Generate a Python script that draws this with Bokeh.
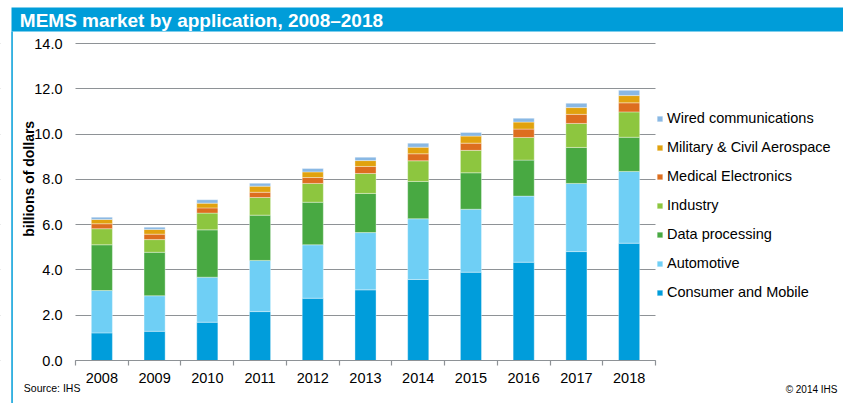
from math import pi
from bokeh.plotting import figure
from bokeh.models import (FixedTicker, NumeralTickFormatter, Legend, LegendItem,
                          Label, BoxAnnotation, ColumnDataSource, Range1d)
from bokeh.embed import file_html
from bokeh.resources import INLINE

years = [2008, 2009, 2010, 2011, 2012, 2013, 2014, 2015, 2016, 2017, 2018]
consumer = [1.22, 1.29, 1.69, 2.16, 2.75, 3.12, 3.58, 3.90, 4.34, 4.81, 5.18]
automotive = [1.87, 1.57, 1.99, 2.26, 2.36, 2.53, 2.68, 2.78, 2.92, 3.01, 3.17]
data_proc = [2.02, 1.92, 2.09, 2.00, 1.88, 1.73, 1.65, 1.61, 1.59, 1.59, 1.51]
industry = [0.71, 0.56, 0.74, 0.78, 0.83, 0.88, 0.91, 0.99, 1.00, 1.06, 1.12]
medical = [0.22, 0.24, 0.23, 0.23, 0.26, 0.31, 0.31, 0.32, 0.37, 0.40, 0.40]
military = [0.19, 0.21, 0.21, 0.27, 0.25, 0.26, 0.29, 0.31, 0.31, 0.30, 0.32]
wired = [0.10, 0.10, 0.15, 0.13, 0.15, 0.15, 0.18, 0.16, 0.17, 0.19, 0.23]

series_names = ["Consumer and Mobile", "Automotive", "Data processing", "Industry",
                "Medical Electronics", "Military & Civil Aerospace", "Wired communications"]
series_keys = ["consumer", "automotive", "data_proc", "industry", "medical", "military", "wired"]
colors = ["#009DDB", "#6FCFF5", "#48A942", "#8DC63F", "#DD6E1F", "#E1A20E", "#89B8E4"]
y_ticks = [0, 2, 4, 6, 8, 10, 12, 14]

title_text = "MEMS market by application, 2008\u20132018"
y_title = "billions of dollars"
source_text = "Source: IHS"
copyright_text = "\u00a9 2014 IHS"

FONT = "Liberation Sans"
BLUE = "#009DD9"
GRID = "#8E9296"

# ---- pixel layout (canvas 843 x 403, frame = whole canvas)
W, H = 843, 403
X0, X1 = 75, 655      # plot area left/right (page px)
Y0, Y1 = 360, 43      # value 0 / value 14 (page px)
x_lo, x_hi = years[0] - 0.5, years[-1] + 0.5
y_lo, y_hi = y_ticks[0], y_ticks[-1]
xs = (X1 - X0) / (x_hi - x_lo)
ys = (Y0 - Y1) / (y_hi - y_lo)
x_range = Range1d(x_lo - X0 / xs, x_hi + (W - X1) / xs)
y_range = Range1d(y_lo - (H - Y0) / ys, y_hi + Y1 / ys)
FIX = 0.32  # em correction of the drawn baseline

source = ColumnDataSource(dict(years=years, consumer=consumer, automotive=automotive,
                               data_proc=data_proc, industry=industry, medical=medical,
                               military=military, wired=wired))

p = figure(width=W, height=H, output_backend="svg", toolbar_location=None,
           x_range=x_range, y_range=y_range, min_border=0)
p.title.visible = False
p.outline_line_color = None
p.background_fill_color = "white"
p.border_fill_color = "white"

renderers = p.vbar_stack(series_keys, x="years", width=0.4, source=source, color=colors,
                         line_color="white", line_width=0.6, line_alpha=0.6)

# y axis drawn at the left edge of the plot area
p.yaxis.fixed_location = x_lo
p.yaxis.ticker = FixedTicker(ticks=y_ticks)
p.yaxis.formatter = NumeralTickFormatter(format="0.0")
p.yaxis.axis_line_color = None
p.yaxis.major_tick_line_color = None
p.yaxis.major_tick_out = 0
p.yaxis.major_tick_in = 0
p.yaxis.minor_tick_line_color = None
p.yaxis.major_label_standoff = 13
p.yaxis.major_label_text_font = FONT
p.yaxis.major_label_text_font_size = "14.5px"
p.yaxis.major_label_text_color = "black"

# x axis drawn at value 0
p.xaxis.fixed_location = y_lo
p.xaxis.bounds = (x_lo, x_hi)
p.xaxis.ticker = FixedTicker(ticks=years, minor_ticks=[y - 0.5 for y in years] + [years[-1] + 0.5])
p.xaxis.major_label_overrides = {y: str(y) for y in years}
p.xaxis.major_tick_line_color = None
p.xaxis.major_tick_out = 0
p.xaxis.major_tick_in = 0
p.xaxis.minor_tick_in = 0
p.xaxis.minor_tick_out = 5
p.xaxis.minor_tick_line_color = GRID
p.xaxis.minor_tick_line_width = 1.2
p.xaxis.axis_line_color = GRID
p.xaxis.axis_line_width = 1.2
p.xaxis.major_label_standoff = 7
p.xaxis.major_label_text_font = FONT
p.xaxis.major_label_text_font_size = "14.5px"
p.xaxis.major_label_text_color = "black"

p.xgrid.grid_line_color = None
p.ygrid.ticker = FixedTicker(ticks=y_ticks)
p.ygrid.grid_line_color = GRID
p.ygrid.grid_line_width = 1.2

# white masks so the grid lines only span the plot area
p.add_layout(BoxAnnotation(right=X0, right_units="screen", level="underlay",
                           fill_color="white", fill_alpha=1, line_color=None))
p.add_layout(BoxAnnotation(left=X1, left_units="screen", level="underlay",
                           fill_color="white", fill_alpha=1, line_color=None))

# legend
items = [LegendItem(label=n, renderers=[r]) for n, r in zip(series_names, renderers)][::-1]
legend = Legend(items=items, location=(X1 + 1, H - 302))
legend.glyph_width = 7
legend.glyph_height = 7
legend.label_height = 20
legend.spacing = 9
legend.padding = 0
legend.margin = 0
legend.label_standoff = 4
legend.border_line_color = None
legend.background_fill_alpha = 0
legend.label_text_font = FONT
legend.label_text_font_size = "14.5px"
legend.label_text_color = "black"
p.add_layout(legend, "center")

# title bar, left rule, texts (screen units; y measured from the bottom)
p.add_layout(BoxAnnotation(left=11, top=H - 7, bottom=H - 31,
                           left_units="screen", top_units="screen", bottom_units="screen",
                           fill_color=BLUE, fill_alpha=1, line_color=None))
p.add_layout(BoxAnnotation(left=10.8, right=12.3, top=H - 31,
                           left_units="screen", right_units="screen", top_units="screen",
                           fill_color=BLUE, fill_alpha=1, line_color=None))
p.add_layout(Label(x=19.3, y=H - 26 + FIX * 19, x_units="screen", y_units="screen",
                   text=title_text, text_font=FONT, text_font_style="bold",
                   text_font_size="19px", text_color="white",
                   text_baseline="alphabetic", text_align="left"))
p.add_layout(Label(x=33.3 - FIX * 14, y=H - 178.3, x_units="screen", y_units="screen",
                   angle=pi / 2, text=y_title, text_font=FONT, text_font_style="bold",
                   text_font_size="14px", text_color="black",
                   text_baseline="alphabetic", text_align="center"))
p.add_layout(Label(x=23.3, y=H - 391.3 + FIX * 10.5, x_units="screen", y_units="screen",
                   text=source_text, text_font=FONT, text_font_size="10.5px",
                   text_color="black", text_baseline="alphabetic", text_align="left"))
p.add_layout(Label(x=837, y=H - 391.7 + FIX * 10, x_units="screen", y_units="screen",
                   text=copyright_text, text_font=FONT, text_font_size="10px",
                   text_color="black", text_baseline="alphabetic", text_align="right"))

open("out.html", "w").write(file_html(p, INLINE))
